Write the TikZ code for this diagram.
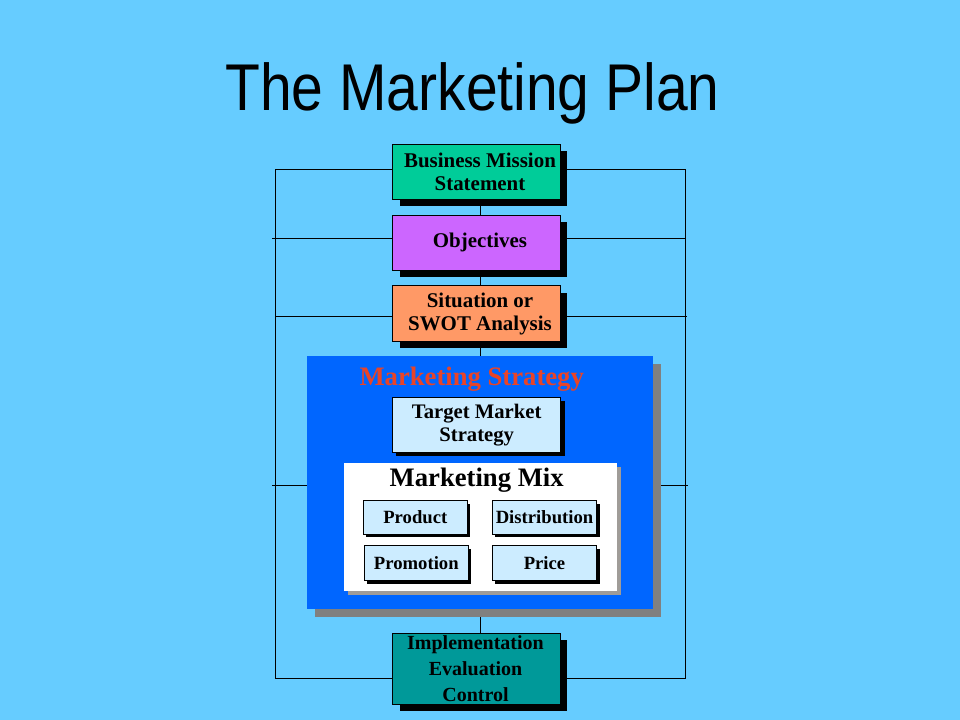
\documentclass[tikz,border=0pt]{standalone}
\usepackage{graphicx}
\usepackage{fontspec}
\setmainfont{Liberation Serif}
\newfontfamily\titlefont{Liberation Sans}
\usetikzlibrary{backgrounds,shadows}
\definecolor{bgblue}{HTML}{66CCFF}
\definecolor{mgreen}{HTML}{00CC99}
\definecolor{mpurple}{HTML}{CC66FF}
\definecolor{morange}{HTML}{FF9966}
\definecolor{mteal}{HTML}{009999}
\definecolor{mlight}{HTML}{CCECFF}
\definecolor{mblue}{HTML}{0066FF}
\definecolor{mred}{HTML}{E84428}
\definecolor{mshadow}{HTML}{808080}
\definecolor{wshadow}{HTML}{A09C98}
\tikzset{
  frame/.style={draw=black, line width=0.75pt},
  bigbox/.style={draw=black, line width=0.75pt, inner sep=0pt,
    minimum width={167.3*0.75pt}, minimum height={55*0.75pt},
    drop shadow={shadow xshift=5.25pt, shadow yshift=-5.25pt, fill=black, opacity=1}},
  tmbox/.style={draw=black, line width=0.75pt, inner sep=0pt, fill=mlight,
    minimum width={168.4*0.75pt}, minimum height={54.7*0.75pt},
    drop shadow={shadow xshift=3pt, shadow yshift=-3pt, fill=black, opacity=1}},
  mixbox/.style={draw=black, line width=0.75pt, inner sep=0pt, fill=mlight,
    minimum width={104.2*0.75pt}, minimum height={34.5*0.75pt},
    drop shadow={shadow xshift=2.25pt, shadow yshift=-2.25pt, fill=black, opacity=1},
    font=\bfseries\fontsize{14}{16}\selectfont},
  boxtext/.style={align=center, inner sep=0pt,
    font=\bfseries\fontsize{15.7}{17.25}\selectfont},
  headtext/.style={inner sep=0pt, anchor=base,
    font=\bfseries\fontsize{20}{22}\selectfont},
}
\begin{document}
\begin{tikzpicture}[x=0.75pt,y=-0.75pt]
\useasboundingbox (0,0) rectangle (960,720);

% title
\node[font=\titlefont\fontsize{49.6}{52}\selectfont, anchor=base, inner sep=0pt]
  (title) at (472.5,110.7) {\scalebox{0.862}[1]{The Marketing Plan}};

% top boxes
\node[bigbox, fill=mgreen]  (bm)   at (476.35,171.8) {};
\node[boxtext] (bmt) at (480,171.8) {Business Mission\\Statement};
\node[bigbox, fill=mpurple] (obj)  at (476.35,242.65) {};
\node[boxtext] (objt) at (480,242.65) {Objectives};
\node[bigbox, fill=morange] (swot) at (476.35,313.5) {};
\node[boxtext] (swott) at (480,313.5) {Situation or\\SWOT Analysis};

% marketing strategy
\node[fill=mblue, inner sep=0pt, minimum width={345.4*0.75pt}, minimum height={253.3*0.75pt},
  drop shadow={shadow xshift=6pt, shadow yshift=-6pt, fill=mshadow, opacity=1}]
  (strat) at (480,482.65) {};
\node[headtext, text=mred] (stratt) at (471.7,385) {Marketing Strategy};
\node[tmbox] (tm) at (476.5,424.65) {};
\node[boxtext, font=\bfseries\fontsize{15.5}{17.25}\selectfont] (tmt) at (476.7,424.65) {Target Market\\Strategy};

% marketing mix
\node[fill=white, inner sep=0pt, minimum width={272.7*0.75pt}, minimum height={127.4*0.75pt},
  drop shadow={shadow xshift=3pt, shadow yshift=-3pt, fill=wshadow, opacity=1}]
  (mix) at (480.35,527) {};
\node[headtext, text=black] (mixt) at (476.7,486.7) {Marketing Mix};
\node[mixbox, minimum height={33.6*0.75pt}] (prod) at (415.3,517.5) {Product};
\node[mixbox, minimum height={33.6*0.75pt}] (dist) at (544.5,517.5) {Distribution};
\node[mixbox, minimum height={35*0.75pt}] (prom) at (416.3,563.2) {Promotion};
\node[mixbox, minimum height={35*0.75pt}] (price) at (544.5,563.2) {Price};

% implementation
\node[bigbox, fill=mteal, minimum height={71*0.75pt}] (impl) at (476.35,668.8) {};
\node[boxtext, font=\bfseries\fontsize{15}{19.5}\selectfont] (implt) at (475.5,669)
  {Implementation\\Evaluation\\Control};

\begin{scope}[on background layer]
  \fill[bgblue] (0,0) rectangle (960,720);
  \coordinate (tl) at (275,170);
  \coordinate (tr) at (685.5,170);
  \coordinate (bl) at (275,678);
  \coordinate (br) at (685.5,678);
  \coordinate (objl) at (272,239);
  \coordinate (objr) at (685.5,239);
  \coordinate (swotl) at (275,316);
  \coordinate (swotr) at (687,316);
  \coordinate (mixl) at (272,485);
  \coordinate (mixr) at (688,485);
  \coordinate (spinetop) at (480.3,200);
  \coordinate (spinebot) at (480.3,634);
  \draw[frame] (tl) -- (tr);
  \draw[frame] (bl) -- (br);
  \draw[frame] (tl) -- (bl);
  \draw[frame] (tr) -- (br);
  \draw[frame] (objl) -- (objr);
  \draw[frame] (swotl) -- (swotr);
  \draw[frame] (mixl) -- (mixr);
  \draw[frame] (spinetop) -- (spinebot);
\end{scope}
\end{tikzpicture}
\end{document}
